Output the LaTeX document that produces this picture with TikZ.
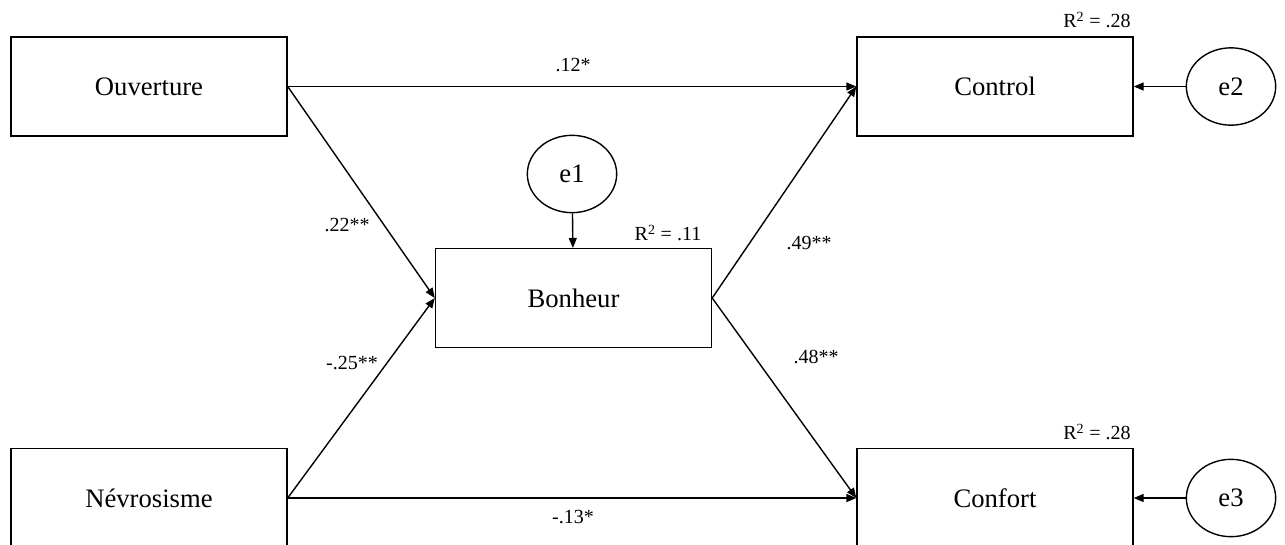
\documentclass[tikz,border=0pt]{standalone}
\usepackage{fontspec}
\setmainfont{Liberation Serif}
\usetikzlibrary{arrows.meta,shapes.geometric}
\begin{document}
\begin{tikzpicture}[x=0.75pt,y=-0.75pt,
  box/.style={draw, line width=1.05pt, minimum width=207pt, minimum height=74pt, inner sep=0pt, font=\fontsize{20}{24}\selectfont},
  lat/.style={draw, ellipse, line width=1.05pt, minimum width=67pt, minimum height=58pt, inner sep=0pt, font=\fontsize{20}{24}\selectfont},
  path/.style={line width=1.05pt, -{Triangle[length=7.5pt,width=6pt]}},
  coef/.style={font=\fontsize{15}{18}\selectfont, inner sep=0pt}]
\useasboundingbox (0,0) rectangle (1285,544);
\node[box] (ouv) at (149,86.5) {Ouverture};
\node[box] (ctl) at (995,86.5) {Control};
\node[box] (bon) at (573.5,298) {Bonheur};
\node[box] (nev) at (149,498) {Névrosisme};
\node[box] (cnf) at (995,498) {Confort};
\node[lat] (e1) at (572,174) {e1};
\node[lat] (e2) at (1231,86.5) {e2};
\node[lat] (e3) at (1231,498) {e3};
\draw[path] (ouv.east) -- (ctl.west);
\draw[path] (ouv.east) -- (bon.west);
\draw[path] (nev.east) -- (bon.west);
\draw[path] (nev.east) -- (cnf.west);
\draw[path] (bon.east) -- (ctl.west);
\draw[path] (bon.east) -- (cnf.west);
\draw[path] (e1) -- (bon);
\draw[path] (e2) -- (ctl);
\draw[path] (e3) -- (cnf);
\node[coef] (l1) at (573,65) {.12*};
\node[coef] (l2) at (347,225) {.22**};
\node[coef] (l3) at (352,363) {-.25**};
\node[coef] (l4) at (809,243) {.49**};
\node[coef] (l5) at (816,357) {.48**};
\node[coef] (l6) at (573,517) {-.13*};
\node[coef] (r1) at (668,233) {R\textsuperscript{2} = .11};
\node[coef] (r2) at (1097,20) {R\textsuperscript{2} = .28};
\node[coef] (r3) at (1097,432) {R\textsuperscript{2} = .28};
\end{tikzpicture}
\end{document}
